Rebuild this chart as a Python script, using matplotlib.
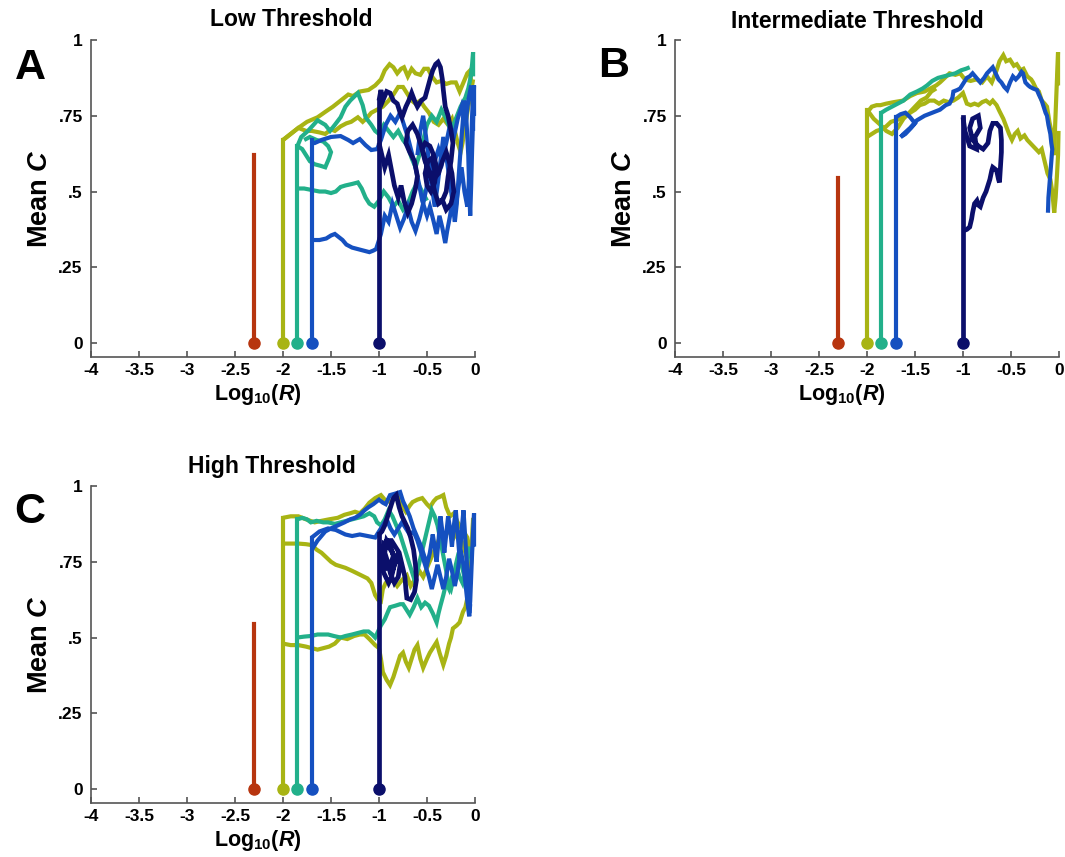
import matplotlib
matplotlib.use("Agg")
import matplotlib.pyplot as plt

plt.rcParams['font.family'] = ['Liberation Sans', 'DejaVu Sans']
plt.rcParams['font.weight'] = 'bold'
plt.rcParams['mathtext.fontset'] = 'custom'
plt.rcParams['mathtext.rm'] = 'Liberation Sans:bold'
plt.rcParams['mathtext.bf'] = 'Liberation Sans:bold'
plt.rcParams['mathtext.it'] = 'Liberation Sans:bold:italic'

# ---------------- data ----------------
colors = {'red': '#B7350F', 'olive': '#A8B414', 'teal': '#22B08A',
          'blue': '#1550C0', 'navy': '#0B0F6B'}
stem_x = {'red': -2.3, 'olive': -2.0, 'teal': -1.85, 'blue': -1.7, 'navy': -1.0}

x_ticks = [-4, -3.5, -3, -2.5, -2, -1.5, -1, -0.5, 0]
x_ticklabels = ['-4', '-3.5', '-3', '-2.5', '-2', '-1.5', '-1', '-0.5', '0']
y_ticks = [0, 0.25, 0.5, 0.75, 1]
y_ticklabels = ['0', '.25', '.5', '.75', '1']

titles = ['Low Threshold', 'Intermediate Threshold', 'High Threshold']
letters = ['A', 'B', 'C']

# stem heights (top of vertical line) per panel
stems_A = {'red': 0.62, 'olive': 0.67, 'teal': 0.65, 'blue': 0.67, 'navy': 0.80}
stems_B = {'red': 0.545, 'olive': 0.77, 'teal': 0.76, 'blue': 0.745, 'navy': 0.745}
stems_C = {'red': 0.545, 'olive': 0.895, 'teal': 0.89, 'blue': 0.83, 'navy': 0.84}

# ---- Panel A trajectories (log10 R, mean C)
A_olive1 = [(-2.0,0.67),(-1.92,0.69),(-1.84,0.71),(-1.75,0.73),(-1.64,0.745),(-1.55,0.765),(-1.48,0.78),(-1.40,0.80),(-1.32,0.82),(-1.27,0.815),(-1.20,0.83),(-1.11,0.835),(-1.04,0.85),(-0.98,0.87),(-0.94,0.90),(-0.89,0.92),(-0.85,0.91),(-0.81,0.89),(-0.77,0.905),(-0.74,0.91),(-0.70,0.88),(-0.66,0.905),(-0.62,0.89),(-0.57,0.885),(-0.53,0.905),(-0.49,0.905),(-0.45,0.88),(-0.40,0.86),(-0.35,0.865),(-0.30,0.855),(-0.25,0.86),(-0.20,0.86),(-0.16,0.83),(-0.12,0.86),(-0.08,0.89),(-0.05,0.90),(-0.04,0.86)]
A_olive2 = [(-2.0,0.67),(-1.92,0.69),(-1.84,0.71),(-1.76,0.70),(-1.70,0.70),(-1.62,0.695),(-1.56,0.69),(-1.50,0.705),(-1.46,0.70),(-1.40,0.715),(-1.34,0.725),(-1.29,0.73),(-1.22,0.745),(-1.17,0.73),(-1.12,0.745),(-1.08,0.76),(-1.02,0.77),(-0.96,0.78),(-0.90,0.80),(-0.85,0.82),(-0.80,0.845),(-0.75,0.845),(-0.70,0.82),(-0.66,0.80),(-0.62,0.79),(-0.57,0.80),(-0.53,0.78),(-0.48,0.76),(-0.43,0.73),(-0.38,0.72),(-0.33,0.74),(-0.28,0.72),(-0.24,0.74),(-0.21,0.70),(-0.18,0.66),(-0.15,0.63),(-0.13,0.66),(-0.10,0.72),(-0.07,0.78),(-0.04,0.83),(-0.02,0.87)]
A_teal1 = [(-1.85,0.65),(-1.81,0.68),(-1.74,0.70),(-1.64,0.735),(-1.56,0.72),(-1.51,0.70),(-1.46,0.72),(-1.40,0.745),(-1.35,0.78),(-1.30,0.80),(-1.22,0.825),(-1.17,0.785),(-1.14,0.745),(-1.08,0.72),(-1.04,0.70),(-1.0,0.69),(-0.95,0.72),(-0.9,0.70),(-0.85,0.68),(-0.8,0.70),(-0.75,0.67),(-0.7,0.65),(-0.66,0.61),(-0.62,0.58),(-0.58,0.62),(-0.54,0.67),(-0.5,0.72),(-0.45,0.75),(-0.4,0.73),(-0.35,0.77),(-0.3,0.74),(-0.25,0.70),(-0.2,0.74),(-0.15,0.78),(-0.1,0.81),(-0.07,0.84),(-0.05,0.87),(-0.03,0.92),(-0.02,0.96),(-0.02,0.88)]
A_teal2 = [(-1.85,0.65),(-1.80,0.64),(-1.76,0.62),(-1.72,0.60),(-1.67,0.59),(-1.61,0.585),(-1.56,0.58),(-1.52,0.61),(-1.50,0.63),(-1.53,0.65),(-1.58,0.665),(-1.65,0.67),(-1.72,0.68),(-1.78,0.67)]
A_teal3 = [(-1.85,0.51),(-1.78,0.51),(-1.70,0.505),(-1.62,0.50),(-1.56,0.50),(-1.50,0.495),(-1.45,0.50),(-1.40,0.515),(-1.35,0.52),(-1.28,0.525),(-1.22,0.53),(-1.18,0.51),(-1.14,0.48),(-1.10,0.46),(-1.05,0.45),(-1.0,0.47),(-0.95,0.50),(-0.9,0.48),(-0.85,0.45),(-0.8,0.47),(-0.75,0.44),(-0.7,0.46),(-0.65,0.50),(-0.6,0.53),(-0.55,0.50),(-0.5,0.47)]
A_blue1 = [(-1.70,0.66),(-1.67,0.66),(-1.60,0.67),(-1.50,0.68),(-1.40,0.683),(-1.32,0.67),(-1.27,0.66),(-1.20,0.673),(-1.14,0.653),(-1.08,0.637),(-1.02,0.64),(-0.98,0.67),(-0.93,0.72),(-0.88,0.75),(-0.83,0.73),(-0.78,0.76),(-0.74,0.72),(-0.70,0.68),(-0.66,0.63),(-0.62,0.58),(-0.58,0.52),(-0.55,0.47),(-0.5,0.42),(-0.47,0.45),(-0.43,0.40),(-0.40,0.36),(-0.37,0.42),(-0.34,0.38),(-0.31,0.33),(-0.29,0.37),(-0.26,0.42),(-0.23,0.48),(-0.2,0.45),(-0.17,0.52),(-0.14,0.58),(-0.11,0.50),(-0.08,0.45),(-0.06,0.55),(-0.04,0.65),(-0.03,0.75),(-0.02,0.82),(-0.02,0.70)]
A_blue2 = [(-1.70,0.34),(-1.62,0.34),(-1.55,0.345),(-1.50,0.355),(-1.46,0.36),(-1.42,0.35),(-1.38,0.34),(-1.34,0.325),(-1.28,0.315),(-1.22,0.31),(-1.16,0.305),(-1.10,0.30),(-1.06,0.305),(-1.03,0.31),(-0.98,0.36),(-0.94,0.42),(-0.9,0.40),(-0.86,0.46),(-0.82,0.42),(-0.78,0.38),(-0.74,0.41),(-0.7,0.45),(-0.66,0.40),(-0.62,0.37),(-0.58,0.41),(-0.54,0.46),(-0.5,0.52),(-0.46,0.56),(-0.42,0.6),(-0.38,0.64),(-0.34,0.6),(-0.3,0.66),(-0.26,0.72),(-0.22,0.68),(-0.18,0.74),(-0.14,0.78),(-0.1,0.72),(-0.07,0.8),(-0.04,0.85),(-0.02,0.78)]
A_blue3 = [(-0.60,0.62),(-0.57,0.70),(-0.54,0.75),(-0.51,0.68),(-0.48,0.60),(-0.45,0.52),(-0.42,0.45),(-0.39,0.52),(-0.36,0.60),(-0.33,0.68),(-0.30,0.62),(-0.27,0.55),(-0.24,0.48),(-0.21,0.40),(-0.19,0.46),(-0.17,0.55),(-0.15,0.64),(-0.13,0.72),(-0.11,0.80),(-0.09,0.74),(-0.07,0.62),(-0.06,0.50),(-0.05,0.42),(-0.04,0.52),(-0.03,0.64),(-0.02,0.74),(-0.01,0.85),(-0.01,0.75)]
A_navy1 = [(-1.0,0.80),(-0.98,0.835),(-0.96,0.80),(-0.92,0.83),(-0.885,0.825),(-0.85,0.80),(-0.81,0.79),(-0.78,0.76),(-0.76,0.745),(-0.72,0.78),(-0.69,0.80),(-0.66,0.825),(-0.63,0.80),(-0.60,0.78),(-0.56,0.80),(-0.52,0.81),(-0.49,0.845),(-0.46,0.88),(-0.44,0.90),(-0.41,0.92),(-0.385,0.927),(-0.36,0.91),(-0.34,0.87),(-0.33,0.835),(-0.31,0.78),(-0.28,0.75),(-0.25,0.70),(-0.23,0.66),(-0.25,0.60),(-0.28,0.55),(-0.30,0.50),(-0.34,0.47),(-0.38,0.46),(-0.42,0.50),(-0.46,0.55),(-0.50,0.58),(-0.53,0.62),(-0.55,0.64),(-0.52,0.66),(-0.47,0.65),(-0.43,0.62),(-0.40,0.58),(-0.42,0.53),(-0.46,0.50),(-0.50,0.52),(-0.52,0.56),(-0.49,0.60),(-0.45,0.61),(-0.42,0.57),(-0.45,0.54),(-0.48,0.56)]
A_navy2 = [(-1.0,0.66),(-0.97,0.62),(-0.94,0.58),(-0.9,0.62),(-0.87,0.57),(-0.84,0.52),(-0.8,0.48),(-0.77,0.52),(-0.74,0.47),(-0.7,0.43),(-0.66,0.46),(-0.62,0.51),(-0.6,0.55),(-0.63,0.6),(-0.68,0.63),(-0.72,0.66),(-0.7,0.7),(-0.65,0.72),(-0.6,0.69),(-0.56,0.65),(-0.52,0.6),(-0.48,0.57),(-0.43,0.54),(-0.38,0.56),(-0.34,0.6),(-0.3,0.63),(-0.27,0.60),(-0.24,0.56),(-0.22,0.50),(-0.25,0.46),(-0.30,0.44),(-0.35,0.48)]

# ---- Panel B trajectories
B_olive1 = [(-2.0,0.76),(-1.95,0.78),(-1.90,0.785),(-1.86,0.785),(-1.80,0.79),(-1.72,0.795),(-1.625,0.80),(-1.55,0.815),(-1.48,0.825),(-1.40,0.83),(-1.34,0.84),(-1.28,0.85),(-1.24,0.86),(-1.19,0.875),(-1.14,0.89),(-1.08,0.885),(-1.03,0.89),(-0.98,0.87),(-0.92,0.865),(-0.86,0.87),(-0.80,0.86),(-0.75,0.88),(-0.70,0.86),(-0.65,0.90),(-0.62,0.93),(-0.58,0.95),(-0.55,0.93),(-0.51,0.935),(-0.47,0.915),(-0.44,0.92),(-0.40,0.90),(-0.37,0.905),(-0.33,0.88),(-0.29,0.87),(-0.27,0.86),(-0.24,0.84),(-0.21,0.83),(-0.18,0.80),(-0.15,0.79),(-0.125,0.78),(-0.10,0.73),(-0.08,0.70),(-0.06,0.66),(-0.05,0.62),(-0.04,0.72),(-0.03,0.80),(-0.02,0.88),(-0.01,0.96),(-0.01,0.85)]
B_olive2 = [(-2.0,0.68),(-1.95,0.69),(-1.90,0.70),(-1.85,0.705),(-1.80,0.715),(-1.75,0.73),(-1.70,0.735),(-1.65,0.74),(-1.6,0.75),(-1.55,0.76),(-1.5,0.77),(-1.45,0.785),(-1.40,0.79),(-1.35,0.80),(-1.30,0.80),(-1.25,0.79),(-1.20,0.80),(-1.15,0.795),(-1.10,0.80),(-1.05,0.81),(-1.0,0.825),(-0.96,0.79),(-0.92,0.785),(-0.88,0.79),(-0.84,0.785),(-0.80,0.795),(-0.76,0.80),(-0.72,0.79),(-0.69,0.80),(-0.65,0.785),(-0.62,0.765),(-0.58,0.74),(-0.55,0.715),(-0.52,0.69),(-0.49,0.67),(-0.46,0.69),(-0.43,0.70),(-0.40,0.675),(-0.36,0.685),(-0.33,0.67),(-0.30,0.66),(-0.27,0.65),(-0.24,0.64),(-0.21,0.63),(-0.18,0.64),(-0.15,0.60),(-0.12,0.56),(-0.09,0.54),(-0.07,0.50),(-0.05,0.43),(-0.035,0.48),(-0.02,0.56),(-0.01,0.62),(-0.005,0.70)]
B_olive3 = [(-2.0,0.77),(-1.93,0.74),(-1.86,0.72),(-1.80,0.70),(-1.74,0.69),(-1.68,0.71),(-1.62,0.74),(-1.56,0.76),(-1.50,0.78),(-1.44,0.80),(-1.38,0.81),(-1.33,0.83),(-1.28,0.84)]
B_teal1 = [(-1.85,0.76),(-1.80,0.77),(-1.74,0.78),(-1.68,0.79),(-1.62,0.80),(-1.55,0.82),(-1.48,0.83),(-1.42,0.84),(-1.375,0.85),(-1.32,0.865),(-1.26,0.875),(-1.20,0.88),(-1.14,0.885),(-1.08,0.89),(-1.02,0.90),(-0.97,0.905),(-0.93,0.91)]
B_blue1 = [(-1.70,0.745),(-1.65,0.755),(-1.60,0.76),(-1.55,0.745),(-1.50,0.725),(-1.54,0.71),(-1.60,0.69),(-1.65,0.68),(-1.62,0.69),(-1.55,0.71),(-1.48,0.735),(-1.40,0.75),(-1.32,0.76),(-1.24,0.77),(-1.18,0.785),(-1.14,0.79),(-1.11,0.81),(-1.10,0.83),(-1.06,0.835),(-1.03,0.84),(-0.99,0.86),(-0.96,0.875),(-0.93,0.88),(-0.90,0.89),(-0.86,0.875),(-0.82,0.86),(-0.78,0.875),(-0.75,0.89),(-0.72,0.90),(-0.69,0.91),(-0.66,0.89),(-0.63,0.87),(-0.60,0.86),(-0.57,0.845),(-0.54,0.835),(-0.51,0.86),(-0.48,0.88),(-0.45,0.87),(-0.42,0.88),(-0.39,0.895),(-0.375,0.89),(-0.35,0.86),(-0.32,0.85),(-0.30,0.845),(-0.27,0.84),(-0.23,0.835),(-0.21,0.82),(-0.18,0.80),(-0.16,0.78),(-0.14,0.76),(-0.125,0.75),(-0.11,0.72),(-0.09,0.69),(-0.08,0.66),(-0.07,0.64),(-0.08,0.60),(-0.09,0.56),(-0.10,0.52),(-0.11,0.48),(-0.115,0.43)]
B_navy1 = [(-1.0,0.37),(-0.96,0.375),(-0.93,0.383),(-0.91,0.41),(-0.90,0.43),(-0.88,0.46),(-0.855,0.47),(-0.84,0.455),(-0.82,0.45),(-0.80,0.47),(-0.79,0.48),(-0.76,0.50),(-0.74,0.52),(-0.72,0.54),(-0.70,0.57),(-0.69,0.58),(-0.67,0.575),(-0.65,0.57),(-0.63,0.54),(-0.62,0.53),(-0.61,0.58),(-0.60,0.63),(-0.60,0.67),(-0.61,0.71),(-0.65,0.725),(-0.69,0.725),(-0.72,0.70),(-0.74,0.66),(-0.79,0.64),(-0.84,0.65),(-0.90,0.67),(-0.93,0.71),(-0.90,0.74),(-0.84,0.75),(-0.82,0.71),(-0.875,0.68),(-0.86,0.64),(-0.93,0.65),(-0.98,0.70),(-1.0,0.745)]

# ---- Panel C trajectories
C_olive1 = [(-2.0,0.895),(-1.92,0.90),(-1.84,0.90),(-1.76,0.89),(-1.67,0.88),(-1.60,0.885),(-1.52,0.89),(-1.43,0.895),(-1.36,0.905),(-1.30,0.91),(-1.25,0.915),(-1.20,0.91),(-1.15,0.925),(-1.10,0.945),(-1.04,0.96),(-0.98,0.97),(-0.94,0.955),(-0.885,0.947),(-0.83,0.96),(-0.78,0.97),(-0.75,0.93),(-0.72,0.915),(-0.68,0.935),(-0.65,0.947),(-0.60,0.955),(-0.55,0.96),(-0.50,0.94),(-0.47,0.93),(-0.43,0.95),(-0.40,0.96),(-0.36,0.965),(-0.33,0.97),(-0.30,0.93),(-0.26,0.90),(-0.22,0.91),(-0.18,0.88),(-0.14,0.86),(-0.10,0.84),(-0.08,0.83),(-0.05,0.78),(-0.03,0.82),(-0.02,0.88)]
C_olive2 = [(-2.0,0.81),(-1.92,0.81),(-1.84,0.81),(-1.76,0.808),(-1.70,0.805),(-1.65,0.79),(-1.60,0.78),(-1.55,0.765),(-1.50,0.75),(-1.45,0.74),(-1.40,0.735),(-1.35,0.73),(-1.28,0.72),(-1.19,0.706),(-1.12,0.695),(-1.08,0.68),(-1.06,0.66),(-1.04,0.64),(-1.01,0.625),(-0.98,0.62),(-0.96,0.66),(-0.93,0.68),(-0.885,0.69),(-0.84,0.685),(-0.81,0.67),(-0.76,0.69),(-0.71,0.705),(-0.67,0.67),(-0.63,0.69),(-0.58,0.72),(-0.54,0.70),(-0.50,0.73),(-0.46,0.76),(-0.42,0.79),(-0.38,0.82),(-0.34,0.80),(-0.30,0.84),(-0.26,0.86),(-0.22,0.83),(-0.18,0.85),(-0.14,0.82),(-0.10,0.78),(-0.07,0.74)]
C_olive3 = [(-2.0,0.48),(-1.92,0.475),(-1.84,0.475),(-1.76,0.47),(-1.70,0.465),(-1.64,0.46),(-1.58,0.465),(-1.52,0.47),(-1.46,0.48),(-1.40,0.50),(-1.33,0.495),(-1.26,0.505),(-1.20,0.51),(-1.15,0.51),(-1.10,0.495),(-1.04,0.475),(-1.0,0.465),(-0.98,0.43),(-0.96,0.386),(-0.92,0.36),(-0.885,0.343),(-0.85,0.37),(-0.81,0.41),(-0.78,0.44),(-0.75,0.45),(-0.72,0.42),(-0.69,0.40),(-0.66,0.43),(-0.63,0.46),(-0.60,0.475),(-0.57,0.43),(-0.54,0.40),(-0.50,0.43),(-0.47,0.45),(-0.43,0.47),(-0.40,0.485),(-0.37,0.45),(-0.33,0.41),(-0.30,0.44),(-0.27,0.48),(-0.25,0.50),(-0.23,0.53),(-0.19,0.54),(-0.16,0.55),(-0.14,0.57),(-0.125,0.585),(-0.10,0.60),(-0.08,0.63),(-0.06,0.67),(-0.05,0.716),(-0.035,0.76),(-0.03,0.805),(-0.025,0.85),(-0.02,0.895)]
C_teal1 = [(-1.85,0.89),(-1.80,0.895),(-1.75,0.89),(-1.71,0.88),(-1.65,0.885),(-1.58,0.88),(-1.53,0.88),(-1.46,0.875),(-1.40,0.88),(-1.34,0.885),(-1.28,0.89),(-1.22,0.895),(-1.16,0.90),(-1.10,0.91),(-1.05,0.90),(-1.02,0.88),(-0.98,0.87),(-0.94,0.89),(-0.90,0.92),(-0.86,0.90),(-0.82,0.87),(-0.78,0.84),(-0.74,0.80),(-0.70,0.76),(-0.66,0.72),(-0.63,0.69),(-0.60,0.72),(-0.57,0.76),(-0.54,0.80),(-0.51,0.84),(-0.48,0.88),(-0.45,0.92),(-0.42,0.90),(-0.39,0.87),(-0.36,0.82),(-0.33,0.77),(-0.30,0.72),(-0.28,0.68),(-0.25,0.66),(-0.22,0.70),(-0.20,0.74),(-0.17,0.78),(-0.14,0.74),(-0.11,0.70),(-0.08,0.66),(-0.06,0.62)]
C_teal2 = [(-1.85,0.50),(-1.78,0.503),(-1.71,0.505),(-1.64,0.51),(-1.58,0.51),(-1.53,0.51),(-1.47,0.505),(-1.40,0.50),(-1.35,0.505),(-1.28,0.51),(-1.22,0.515),(-1.16,0.52),(-1.11,0.52),(-1.07,0.51),(-1.04,0.50),(-1.01,0.52),(-0.98,0.54),(-0.94,0.56),(-0.90,0.59),(-0.885,0.60),(-0.83,0.605),(-0.78,0.61),(-0.75,0.61),(-0.71,0.59),(-0.68,0.575),(-0.64,0.60),(-0.60,0.63),(-0.56,0.60),(-0.52,0.615),(-0.48,0.605),(-0.44,0.58),(-0.40,0.55),(-0.38,0.58),(-0.36,0.605),(-0.33,0.64),(-0.30,0.68),(-0.27,0.66),(-0.24,0.70),(-0.21,0.72),(-0.19,0.73),(-0.16,0.70),(-0.13,0.68),(-0.10,0.72),(-0.07,0.77),(-0.05,0.80)]
C_blue1 = [(-1.70,0.79),(-1.64,0.82),(-1.56,0.85),(-1.50,0.86),(-1.43,0.87),(-1.36,0.88),(-1.30,0.89),(-1.25,0.895),(-1.20,0.905),(-1.15,0.92),(-1.11,0.93),(-1.06,0.94),(-1.0,0.955),(-0.96,0.945),(-0.93,0.94),(-0.885,0.97),(-0.83,0.975),(-0.78,0.98),(-0.75,0.95),(-0.72,0.93),(-0.68,0.90),(-0.64,0.86),(-0.60,0.83),(-0.56,0.80),(-0.53,0.77),(-0.50,0.74),(-0.47,0.78),(-0.44,0.84),(-0.42,0.80),(-0.40,0.75),(-0.38,0.82),(-0.36,0.90),(-0.34,0.85),(-0.32,0.78),(-0.30,0.84),(-0.28,0.90),(-0.26,0.86),(-0.24,0.80),(-0.22,0.87),(-0.20,0.92),(-0.18,0.84),(-0.16,0.76),(-0.14,0.85),(-0.12,0.92),(-0.10,0.82),(-0.08,0.72),(-0.07,0.64),(-0.06,0.58),(-0.05,0.62),(-0.04,0.70),(-0.03,0.78),(-0.02,0.85),(-0.01,0.91),(-0.01,0.80)]
C_blue2 = [(-1.70,0.83),(-1.62,0.85),(-1.53,0.86),(-1.45,0.855),(-1.35,0.84),(-1.28,0.835),(-1.20,0.84),(-1.12,0.835),(-1.04,0.83),(-1.0,0.85),(-0.96,0.87),(-0.92,0.89),(-0.88,0.86),(-0.84,0.84),(-0.80,0.86),(-0.76,0.88),(-0.72,0.86),(-0.68,0.84),(-0.64,0.85),(-0.60,0.82),(-0.56,0.78),(-0.52,0.74),(-0.48,0.70),(-0.45,0.66),(-0.42,0.70),(-0.39,0.74),(-0.36,0.70),(-0.33,0.66),(-0.30,0.70),(-0.27,0.76),(-0.24,0.72),(-0.21,0.67),(-0.18,0.72),(-0.15,0.79),(-0.12,0.74),(-0.10,0.68),(-0.08,0.62),(-0.06,0.57),(-0.05,0.61)]
C_navy1 = [(-1.0,0.84),(-0.97,0.85),(-0.94,0.87),(-0.91,0.90),(-0.88,0.93),(-0.85,0.96),(-0.82,0.97),(-0.79,0.93),(-0.76,0.90),(-0.73,0.88),(-0.70,0.86),(-0.67,0.83),(-0.64,0.79),(-0.62,0.74),(-0.61,0.69),(-0.63,0.65),(-0.67,0.625),(-0.71,0.63),(-0.72,0.66),(-0.73,0.70),(-0.76,0.74),(-0.79,0.78),(-0.83,0.80),(-0.87,0.82),(-0.92,0.82),(-0.96,0.80),(-0.98,0.76),(-0.96,0.72),(-0.93,0.70),(-0.90,0.68),(-0.87,0.70),(-0.84,0.74),(-0.81,0.77),(-0.78,0.74),(-0.80,0.70),(-0.84,0.68),(-0.88,0.71),(-0.91,0.75),(-0.94,0.78),(-0.92,0.82),(-0.88,0.80),(-0.85,0.77),(-0.88,0.74),(-0.92,0.73),(-0.95,0.75),(-0.97,0.78),(-0.95,0.81),(-0.90,0.80),(-0.86,0.78),(-0.83,0.75),(-0.86,0.72),(-0.90,0.72)]

panels = [
    (stems_A, [('olive', A_olive1), ('olive', A_olive2), ('teal', A_teal1), ('teal', A_teal2),
               ('teal', A_teal3), ('blue', A_blue1), ('blue', A_blue2), ('blue', A_blue3),
               ('navy', A_navy1), ('navy', A_navy2)]),
    (stems_B, [('olive', B_olive1), ('olive', B_olive2), ('olive', B_olive3), ('teal', B_teal1),
               ('blue', B_blue1), ('navy', B_navy1)]),
    (stems_C, [('olive', C_olive1), ('olive', C_olive2), ('olive', C_olive3), ('teal', C_teal1),
               ('teal', C_teal2), ('blue', C_blue1), ('blue', C_blue2), ('navy', C_navy1)]),
]

# ---------------- figure ----------------
W, H = 1065, 857
fig = plt.figure(figsize=(W / 100, H / 100), dpi=100)

def box(l, t, r, b):
    return [l / W, 1 - b / H, (r - l) / W, (b - t) / H]

axes_rects = [box(91, 40, 475, 357), box(675, 40, 1059, 357), box(91, 486, 475, 803)]
title_pos = [(291, 19), (857, 21), (272, 466)]
letter_pos = [(30, 68), (614, 66), (30, 512)]
order = ['red', 'olive', 'teal', 'blue', 'navy']
spine_col = '#555555'

for i, (rect, (stems, trajs)) in enumerate(zip(axes_rects, panels)):
    ax = fig.add_axes(rect)
    ax.set_xlim(-4, 0)
    ax.set_ylim(-0.046, 1)
    for s in ['top', 'right']:
        ax.spines[s].set_visible(False)
    for s in ['left', 'bottom']:
        ax.spines[s].set_color(spine_col)
        ax.spines[s].set_linewidth(1.2)
    ax.set_xticks(x_ticks)
    ax.set_xticklabels(x_ticklabels)
    ax.set_yticks(y_ticks)
    ax.set_yticklabels(y_ticklabels)
    ax.tick_params(direction='in', length=4, width=1.2, color=spine_col,
                   labelsize=12.5)
    ax.tick_params(axis='y', pad=6)
    ax.tick_params(axis='x', pad=4)
    for lab in ax.get_xticklabels() + ax.get_yticklabels():
        lab.set_fontweight('bold')

    for c in order:
        lw = 3.4 if c == 'navy' else 3.0
        for cc, tr in trajs:
            if cc != c:
                continue
            xs = [p[0] for p in tr]
            ys = [p[1] for p in tr]
            ax.plot(xs, ys, color=colors[c], lw=lw, solid_joinstyle='miter',
                    solid_capstyle='butt', zorder=3, clip_on=False)
        ax.plot([stem_x[c], stem_x[c]], [0, stems[c]], color=colors[c], lw=lw, zorder=4)
        ax.plot([stem_x[c]], [0], 'o', color=colors[c], ms=8, zorder=5, clip_on=False)

    ax.set_ylabel(r'Mean $C$', fontsize=19.5, fontweight='bold')
    ax.yaxis.set_label_coords(-0.10, 0.5)
    ax.set_xlabel(r'Log$_{10}$($R$)', fontsize=15.5, fontweight='bold')
    ax.xaxis.set_label_coords(0.435, -0.08)

    tx, ty = title_pos[i]
    fig.text(tx / W, 1 - ty / H, titles[i], ha='center', va='center',
             fontsize=16.5, fontweight='bold')
    lx, ly = letter_pos[i]
    fig.text(lx / W, 1 - ly / H, letters[i], ha='center', va='center',
             fontsize=31, fontweight='bold')

fig.savefig('out.png', dpi=100)
